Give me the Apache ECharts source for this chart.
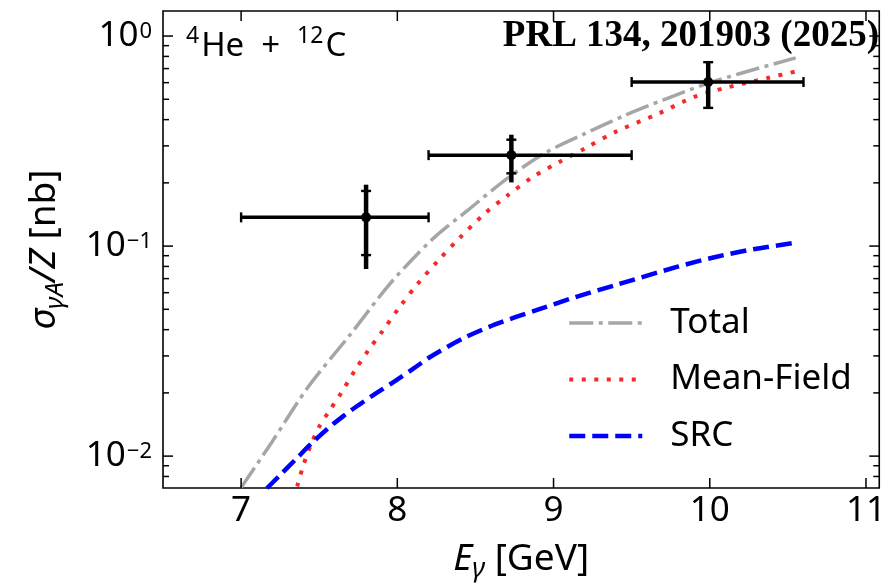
<!DOCTYPE html>
<html><head><meta charset="utf-8">
<script src="https://cdn.jsdelivr.net/npm/echarts@6/dist/echarts.min.js"></script>
<style>html,body{margin:0;padding:0;background:#fff}#c{width:889px;height:588px}</style>
</head><body><div id="c"></div>
<script>
const FONT = 'Noto Sans';
// Theory curves
const totalX = [7.00, 7.20, 7.43, 7.70, 7.935, 8.10, 8.25, 8.45, 8.70, 8.95, 9.20, 9.45, 9.70, 9.95, 10.20, 10.55];
const totalY = [0.00708, 0.01175, 0.02138, 0.03802, 0.06383, 0.08710, 0.1122, 0.1479, 0.2089, 0.2786, 0.3428, 0.4169, 0.4955, 0.5821, 0.6653, 0.7870];
const mfX = [7.33, 7.36, 7.40, 7.45, 7.50, 7.56, 7.64, 7.73, 7.82, 7.90, 8.02, 8.13, 8.26, 8.40, 8.56, 8.70, 8.87, 9.04, 9.20, 9.40, 9.67, 9.90, 10.11, 10.37, 10.56];
const mfY = [0.0063, 0.00724, 0.00912, 0.01148, 0.01380, 0.01622, 0.01995, 0.02570, 0.03236, 0.03890, 0.05188, 0.06607, 0.08511, 0.1096, 0.1429, 0.1730, 0.2138, 0.2523, 0.2917, 0.3508, 0.4266, 0.5129, 0.5689, 0.6310, 0.6808];
const srcX = [7.165, 7.25, 7.35, 7.45, 7.55, 7.65, 7.75, 7.87, 7.98, 8.10, 8.21, 8.42, 8.63, 8.89, 9.14, 9.40, 9.80, 10.03, 10.28, 10.56];
const srcY = [0.00703, 0.00813, 0.00966, 0.01148, 0.01343, 0.01542, 0.01746, 0.02004, 0.02265, 0.02600, 0.02965, 0.03631, 0.04246, 0.04955, 0.05715, 0.06531, 0.07998, 0.08851, 0.09661, 0.1040];
// Data points
const ptX     = [7.80, 8.73, 9.99];
const ptY     = [0.137, 0.271, 0.604];
const ptXLo   = [7.0, 8.2, 9.5];
const ptXHi   = [8.2, 9.5, 10.6];
const ptCapHi = [0.183, 0.321, 0.751];
const ptCapLo = [0.0906, 0.222, 0.455];
const ptOutHi = [0.196, 0.339, 0.757];
const ptOutLo = [0.0778, 0.201, 0.450];
// Ticks
const xMajorTicks = [7, 8, 9, 10, 11];
const yMajorTicks = [0.01, 0.1, 1];
const yMinorTicks = [0.008, 0.009, 0.02, 0.03, 0.04, 0.05, 0.06, 0.07, 0.08, 0.09, 0.2, 0.3, 0.4, 0.5, 0.6, 0.7, 0.8, 0.9];
const yExpLabels = {'0.01': '−2', '0.1': '−1', '1': '0'};

const zip = (xs, ys) => xs.map((x, i) => [x, ys[i]]);
const chart = echarts.init(document.getElementById('c'), null, {renderer: 'canvas'});

function tickSeriesY() {
  const data = yMajorTicks.map(v => [8, v, 1]).concat(yMinorTicks.map(v => [8, v, 0]));
  return {
    type: 'custom', silent: true, data, encode: {x: 0, y: 1}, z: 10,
    renderItem(params, api) {
      const cs = params.coordSys;
      const p = api.coord([8, api.value(1)]);
      const len = api.value(2) ? 10 : 6;
      const st = {stroke: '#000', lineWidth: 1.5};
      return {type: 'group', children: [
        {type: 'line', shape: {x1: cs.x, y1: p[1], x2: cs.x + len, y2: p[1]}, style: st},
        {type: 'line', shape: {x1: cs.x + cs.width - len, y1: p[1], x2: cs.x + cs.width, y2: p[1]}, style: st}
      ]};
    }
  };
}
function tickSeriesX() {
  const data = xMajorTicks.map(v => [v, 0.1]);
  return {
    type: 'custom', silent: true, data, encode: {x: 0, y: 1}, z: 10,
    renderItem(params, api) {
      const cs = params.coordSys;
      const p = api.coord([api.value(0), 0.1]);
      const len = 10;
      const st = {stroke: '#000', lineWidth: 1.5};
      return {type: 'group', children: [
        {type: 'line', shape: {x1: p[0], y1: cs.y + cs.height, x2: p[0], y2: cs.y + cs.height - len}, style: st},
        {type: 'line', shape: {x1: p[0], y1: cs.y, x2: p[0], y2: cs.y + len}, style: st}
      ]};
    }
  };
}

const errData = ptX.map((x, i) => [x, ptY[i], ptXLo[i], ptXHi[i], ptCapHi[i], ptCapLo[i], ptOutHi[i], ptOutLo[i]]);
const hidSym = {opacity: 0, borderWidth: 0};

const option = {
  animation: false,
  backgroundColor: '#fff',
  grid: {left: 163, top: 11, right: 2, bottom: 95, show: true, borderColor: '#000', borderWidth: 1.6, containLabel: false},
  xAxis: {
    type: 'value', min: 6.5, max: 11.085,
    axisLine: {show: false}, axisTick: {show: false}, splitLine: {show: false},
    axisLabel: {
      fontFamily: FONT, fontSize: 35, color: '#000', margin: 6,
      formatter: v => (Math.abs(v - Math.round(v)) < 1e-9 ? String(Math.round(v)) : '')
    },
    name: '{it|E}{sub|γ}{rm| [GeV]}', nameLocation: 'middle', nameGap: 53,
    nameTextStyle: {
      fontFamily: FONT, fontSize: 37, color: '#000',
      rich: {
        it: {fontFamily: FONT, fontSize: 37, fontStyle: 'italic', verticalAlign: 'top'},
        sub: {fontFamily: FONT, fontSize: 27, fontStyle: 'italic', verticalAlign: 'top', padding: [15, 0, 0, 0]},
        rm: {fontFamily: FONT, fontSize: 37, verticalAlign: 'top'}
      }
    }
  },
  yAxis: {
    type: 'log', min: 0.00705, max: 1.316, logBase: 10,
    axisLine: {show: false}, axisTick: {show: false}, splitLine: {show: false}, minorTick: {show: false},
    axisLabel: {
      margin: 11, color: '#000',
      formatter: v => {
        const key = String(+v.toPrecision(6));
        return yExpLabels[key] !== undefined ? '{b|10}{s|' + yExpLabels[key] + '}' : '';
      },
      rich: {
        b: {fontFamily: FONT, fontSize: 35, color: '#000', verticalAlign: 'bottom'},
        s: {fontFamily: FONT, fontSize: 22, color: '#000', verticalAlign: 'bottom', padding: [0, 0, 11, 1]}
      }
    },
    name: '{it|σ}{sub|γA}{it|/Z}{rm| [nb]}', nameLocation: 'middle', nameGap: 94, nameRotate: 90,
    nameTextStyle: {
      fontFamily: FONT, fontSize: 37, color: '#000',
      rich: {
        it: {fontFamily: FONT, fontSize: 37, fontStyle: 'italic', verticalAlign: 'top'},
        sub: {fontFamily: FONT, fontSize: 26, fontStyle: 'italic', verticalAlign: 'top', padding: [17, 0, 0, 0]},
        rm: {fontFamily: FONT, fontSize: 37, verticalAlign: 'top'}
      }
    }
  },
  legend: {
    orient: 'vertical', left: 567, top: 303, padding: 0,
    itemWidth: 73, itemHeight: 14, itemGap: 16.5,
    textStyle: {fontFamily: FONT, fontSize: 35, color: '#000', lineHeight: 40, padding: [0, 0, 0, 23]},
    data: [
      {name: 'Total', lineStyle: {width: 3.5}, itemStyle: hidSym},
      {name: 'Mean-Field', lineStyle: {width: 4}, itemStyle: hidSym},
      {name: 'SRC', lineStyle: {width: 4.5}, itemStyle: hidSym}
    ],
    selectedMode: false
  },
  graphic: [
    {type: 'text', left: 186, top: 25, z: 100,
      style: {text: '{s|4}{b|He}{p|+}{s|12}{b|C}', fill: '#000',
        rich: {
          b: {fontFamily: FONT, fontSize: 33, verticalAlign: 'bottom'},
          p: {fontFamily: FONT, fontSize: 33, verticalAlign: 'bottom', padding: [0, 17, 0, 17]},
          s: {fontFamily: FONT, fontSize: 23, verticalAlign: 'bottom', padding: [0, 2, 15, 0]}
        }}},
    {type: 'text', right: 10, top: 18, z: 100,
      style: {text: 'PRL 134, 201903 (2025)', fill: '#000', font: 'bold 37px "Liberation Serif"'}}
  ],
  series: [
    {name: 'Total', type: 'line', data: zip(totalX, totalY), showSymbol: false, symbol: 'none', smooth: 0.3,
      lineStyle: {color: '#a6a6a6', width: 3.5, type: [24, 5.5, 4, 5.5]}, itemStyle: {color: '#a6a6a6'}, z: 3},
    {name: 'Mean-Field', type: 'line', data: zip(mfX, mfY), showSymbol: false, symbol: 'none', smooth: 0.3,
      lineStyle: {color: '#f52a2a', width: 4, type: [4, 8.5]}, itemStyle: {color: '#f52a2a'}, z: 4},
    {name: 'SRC', type: 'line', data: zip(srcX, srcY), showSymbol: false, symbol: 'none', smooth: 0.3,
      lineStyle: {color: '#0000ff', width: 4.5, type: [16, 7]}, itemStyle: {color: '#0000ff'}, z: 5},
    {name: 'Data', type: 'custom', data: errData, encode: {x: 0, y: 1}, z: 20, silent: true,
      renderItem(params, api) {
        const x = api.value(0), y = api.value(1);
        const c = api.coord([x, y]);
        const l = api.coord([api.value(2), y]), r = api.coord([api.value(3), y]);
        const ch = api.coord([x, api.value(4)]), cl = api.coord([x, api.value(5)]);
        const oh = api.coord([x, api.value(6)]), ol = api.coord([x, api.value(7)]);
        const bar = {stroke: '#000', lineWidth: 3.5};
        const vbar = {stroke: '#000', lineWidth: 4.5};
        const cap = {stroke: '#000', lineWidth: 2.4};
        return {type: 'group', children: [
          {type: 'line', shape: {x1: l[0], y1: c[1], x2: r[0], y2: c[1]}, style: bar},
          {type: 'line', shape: {x1: c[0], y1: oh[1], x2: c[0], y2: ol[1]}, style: vbar},
          {type: 'line', shape: {x1: l[0], y1: c[1] - 5, x2: l[0], y2: c[1] + 5}, style: cap},
          {type: 'line', shape: {x1: r[0], y1: c[1] - 5, x2: r[0], y2: c[1] + 5}, style: cap},
          {type: 'line', shape: {x1: c[0] - 5, y1: ch[1], x2: c[0] + 5, y2: ch[1]}, style: cap},
          {type: 'line', shape: {x1: c[0] - 5, y1: cl[1], x2: c[0] + 5, y2: cl[1]}, style: cap},
          {type: 'circle', shape: {cx: c[0], cy: c[1], r: 5}, style: {fill: '#000'}}
        ]};
      }
    },
    tickSeriesY(),
    tickSeriesX()
  ]
};
chart.setOption(option);
</script>
</body></html>
